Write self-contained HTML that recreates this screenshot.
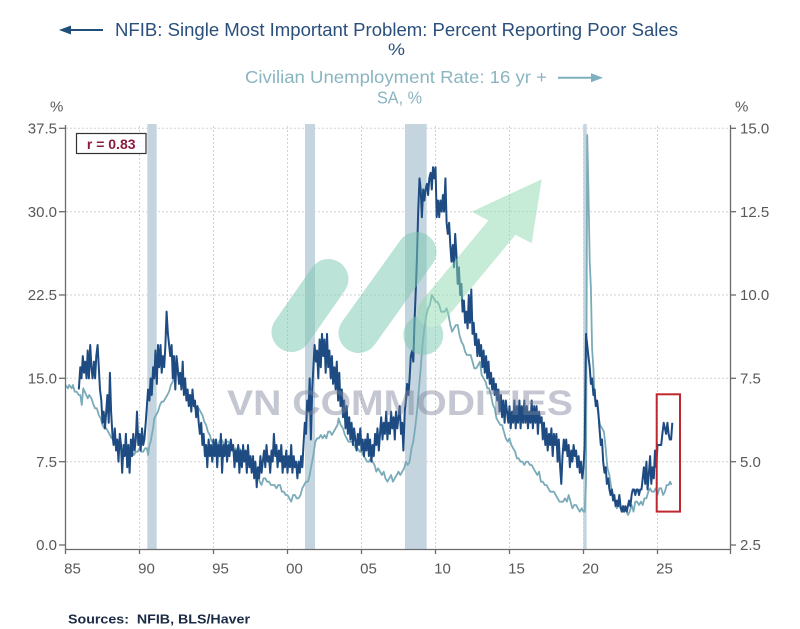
<!DOCTYPE html>
<html>
<head>
<meta charset="utf-8">
<style>
html,body{margin:0;padding:0;background:#fff;}
body{width:800px;height:629px;overflow:hidden;}
svg{display:block;font-family:"Liberation Sans",Arial,sans-serif;}
</style>
</head>
<body>
<svg width="800" height="629" viewBox="0 0 800 629" xmlns="http://www.w3.org/2000/svg">
<rect x="0" y="0" width="800" height="629" fill="#fff"/>

<!-- Legend / title -->
<line x1="66" y1="30" x2="103" y2="30" stroke="#1f4e79" stroke-width="2"/>
<polygon points="59,30 71,25.5 71,34.5" fill="#1f4e79"/>
<text x="115" y="36" font-size="18.5" fill="#2a4f7c" textLength="563" lengthAdjust="spacingAndGlyphs">NFIB: Single Most Important Problem: Percent Reporting Poor Sales</text>
<text x="388" y="55" font-size="17" fill="#2a4f7c" textLength="17" lengthAdjust="spacingAndGlyphs">%</text>
<text x="245" y="83" font-size="17.5" fill="#8ab5c1" textLength="302" lengthAdjust="spacingAndGlyphs">Civilian Unemployment Rate: 16 yr +</text>
<line x1="558" y1="77.7" x2="595" y2="77.7" stroke="#7fb0bf" stroke-width="2"/>
<polygon points="603,77.7 591,73.2 591,82.2" fill="#7fb0bf"/>
<text x="377" y="103.3" font-size="17.5" fill="#8ab5c1" textLength="45" lengthAdjust="spacingAndGlyphs">SA, %</text>

<!-- axis unit labels -->
<text x="50" y="111.5" font-size="15" fill="#595959">%</text>
<text x="735" y="111.5" font-size="15" fill="#595959">%</text>

<!-- recession bars -->
<g fill="#c4d5e0">
<rect x="147.3" y="124" width="9.4" height="425"/>
<rect x="305" y="124" width="10" height="425"/>
<rect x="405" y="124" width="21.7" height="425"/>
<rect x="583.3" y="124" width="3.4" height="425"/>
</g>

<!-- grid -->
<g stroke="#d2d2d2" stroke-width="1" stroke-dasharray="2,2" fill="none">
<line x1="66" y1="128.3" x2="730" y2="128.3"/>
<line x1="66" y1="211.7" x2="730" y2="211.7"/>
<line x1="66" y1="295" x2="730" y2="295"/>
<line x1="66" y1="378.3" x2="730" y2="378.3"/>
<line x1="66" y1="461.7" x2="730" y2="461.7"/>
<line x1="139.5" y1="126" x2="549" y2="549" transform="" stroke="none"/>
<line x1="139.5" y1="126" x2="139.5" y2="549"/>
<line x1="213.5" y1="126" x2="213.5" y2="549"/>
<line x1="287.5" y1="126" x2="287.5" y2="549"/>
<line x1="361.5" y1="126" x2="361.5" y2="549"/>
<line x1="435.5" y1="126" x2="435.5" y2="549"/>
<line x1="509.5" y1="126" x2="509.5" y2="549"/>
<line x1="583.5" y1="126" x2="583.5" y2="549"/>
<line x1="657.5" y1="126" x2="657.5" y2="549"/>
</g>

<!-- Unemployment (right axis) -->
<g transform="translate(65.5,628.33) scale(14.8,-33.333)">
<polyline fill="none" stroke="#7aabb8" stroke-width="1.8" stroke-linejoin="round" vector-effect="non-scaling-stroke"
points="0,7.3 0.17,7.2 0.25,7.3 0.42,7.2 0.5,7.3 0.62,7.1 0.75,7.1 0.9,7.0 1.0,7.0 1.1,6.7 1.2,7.2 1.3,7.1 1.4,7.0 1.5,6.9 1.6,7.0 1.75,6.9 1.9,6.7 2.0,6.6 2.12,6.6 2.25,6.4 2.38,6.3 2.5,6.1 2.62,6.0 2.75,6.0 2.88,5.9 3.0,5.8 3.12,5.7 3.25,5.7 3.38,5.6 3.5,5.5 3.62,5.4 3.75,5.4 3.88,5.3 4.0,5.4 4.12,5.2 4.25,5.1 4.4,5.2 4.5,5.3 4.62,5.2 4.75,5.3 4.88,5.3 5.0,5.4 5.12,5.3 5.25,5.3 5.38,5.4 5.5,5.4 5.58,5.2 5.67,5.5 5.75,5.6 5.83,5.8 5.92,6.0 6.0,6.3 6.12,6.4 6.25,6.5 6.38,6.7 6.5,6.8 6.62,6.8 6.75,6.9 6.88,7.0 7.0,7.1 7.12,7.3 7.25,7.4 7.4,7.6 7.5,7.7 7.6,7.6 7.75,7.5 7.88,7.4 8.0,7.3 8.12,7.1 8.25,7.0 8.38,7.0 8.5,6.9 8.62,6.8 8.75,6.6 8.88,6.6 9.0,6.6 9.12,6.5 9.25,6.4 9.38,6.2 9.5,6.1 9.62,5.9 9.75,5.8 9.88,5.6 10.0,5.6 10.12,5.5 10.25,5.5 10.38,5.6 10.5,5.7 10.62,5.6 10.75,5.5 10.88,5.6 11.0,5.6 11.12,5.5 11.25,5.5 11.38,5.3 11.5,5.4 11.62,5.3 11.75,5.4 11.88,5.3 12.0,5.3 12.12,5.1 12.25,5.0 12.38,4.9 12.5,4.9 12.62,4.8 12.75,4.7 12.88,4.6 13.0,4.6 13.12,4.4 13.25,4.3 13.38,4.5 13.5,4.5 13.62,4.4 13.75,4.4 13.88,4.3 14.0,4.3 14.12,4.3 14.25,4.2 14.38,4.3 14.5,4.3 14.62,4.1 14.75,4.1 14.88,4.0 15.0,4.0 15.12,3.9 15.25,3.8 15.38,4.0 15.5,4.0 15.62,3.9 15.75,3.9 15.88,4.0 16.0,4.2 16.12,4.3 16.25,4.4 16.38,4.4 16.5,4.6 16.62,4.9 16.75,5.2 16.88,5.6 17.0,5.7 17.12,5.7 17.25,5.8 17.38,5.7 17.5,5.8 17.62,5.7 17.75,5.9 17.88,5.9 18.0,5.8 18.12,5.9 18.25,6.0 18.38,6.1 18.45,6.3 18.6,6.1 18.75,6.0 18.88,5.8 19.0,5.7 19.12,5.6 19.25,5.6 19.38,5.6 19.5,5.5 19.62,5.4 19.75,5.4 19.88,5.3 20.0,5.3 20.12,5.2 20.25,5.1 20.38,5.0 20.5,5.0 20.62,5.1 20.75,5.0 20.88,4.9 21.0,4.7 21.12,4.8 21.25,4.7 21.38,4.6 21.5,4.7 21.62,4.5 21.75,4.4 21.88,4.5 22.0,4.6 22.12,4.4 22.25,4.5 22.38,4.6 22.5,4.7 22.62,4.6 22.75,4.7 22.88,4.8 23.0,5.0 23.12,4.9 23.25,5.0 23.38,5.4 23.5,5.6 23.62,6.0 23.75,6.5 23.88,7.2 24.0,7.8 24.12,8.5 24.25,9.0 24.38,9.4 24.5,9.6 24.62,9.7 24.75,10.0 24.88,9.9 25.0,9.8 25.12,9.8 25.25,9.7 25.38,9.5 25.5,9.5 25.62,9.5 25.75,9.6 25.88,9.4 26.0,9.1 26.12,8.9 26.25,9.0 26.38,9.1 26.5,9.1 26.62,8.8 26.75,8.6 26.88,8.5 27.0,8.3 27.12,8.2 27.25,8.2 27.38,8.2 27.5,8.0 27.62,7.8 27.75,7.8 27.88,7.9 28.0,8.0 28.12,7.6 28.25,7.5 28.38,7.4 28.5,7.2 28.62,7.2 28.75,7.0 28.88,6.7 29.0,6.6 29.12,6.3 29.25,6.2 29.38,6.1 29.5,6.1 29.62,5.9 29.75,5.7 29.88,5.6 30.0,5.7 30.12,5.5 30.25,5.4 30.38,5.3 30.5,5.1 30.62,5.1 30.75,5.0 30.88,5.0 31.0,4.9 31.12,5.0 31.25,5.0 31.38,4.9 31.5,4.9 31.62,4.8 31.75,4.7 31.88,4.6 32.0,4.7 32.12,4.4 32.25,4.4 32.38,4.3 32.5,4.3 32.62,4.2 32.75,4.1 32.88,4.1 33.0,4.1 33.12,4.0 33.25,3.9 33.38,3.8 33.5,3.8 33.62,3.8 33.75,3.9 33.88,3.8 34.0,4.0 34.12,3.8 34.25,3.6 34.38,3.7 34.5,3.7 34.62,3.6 34.75,3.5 34.88,3.6 35.0,3.5 35.08,3.5 35.17,4.4 35.25,14.8 35.33,13.2 35.42,11.0 35.5,10.2 35.58,8.4 35.67,7.8 35.75,6.9 35.83,6.7 35.92,6.7 36.0,6.4 36.12,6.1 36.25,6.0 36.38,5.9 36.5,5.4 36.62,4.8 36.75,4.6 36.88,4.2 37.0,4.0 37.12,3.8 37.25,3.6 37.38,3.7 37.5,3.6 37.62,3.5 37.75,3.5 37.88,3.6 38.0,3.4 38.12,3.5 38.25,3.7 38.38,3.5 38.5,3.8 38.62,3.8 38.75,3.7 38.88,3.8 39.0,3.7 39.12,3.9 39.25,3.9 39.38,4.1 39.5,4.2 39.62,4.1 39.75,4.1 39.88,4.2 40.0,4.0 40.12,4.2 40.25,4.2 40.38,4.0 40.5,4.1 40.62,4.3 40.75,4.3 40.85,4.4 40.95,4.3"/>
</g>

<!-- NFIB Poor sales (left axis) -->
<g transform="translate(65.5,545) scale(14.8,-11.111)">
<polyline fill="none" stroke="#1d4b82" stroke-width="2" stroke-linejoin="round" vector-effect="non-scaling-stroke"
points="0.9,14 1.0,16 1.08,15 1.17,17 1.25,15.5 1.33,16.5 1.42,15 1.5,17.5 1.58,15 1.67,18 1.75,16 1.83,15 1.92,16.5 2.0,15 2.08,17 2.17,18 2.25,16 2.33,14 2.42,13 2.5,11 2.58,12 2.67,10.5 2.75,12 2.83,13.5 2.92,11 3.0,15.5 3.08,12 3.17,10 3.25,9 3.33,10.5 3.42,8.5 3.5,9.5 3.58,7.5 3.67,10 3.75,9 3.83,6.5 3.92,9 4.0,8 4.08,10 4.17,7 4.25,9 4.33,6.5 4.42,9.5 4.5,8 4.58,10 4.67,8.5 4.75,9.5 4.83,12 4.92,9 5.0,10 5.08,8.5 5.17,10.5 5.25,9 5.33,9.5 5.42,11 5.5,12.5 5.58,14 5.67,13 5.75,15 5.83,13.5 5.92,16 6.0,15 6.08,17.5 6.17,14.5 6.25,18 6.33,16 6.42,18 6.5,15.5 6.58,17 6.67,16 6.75,18 6.83,21 6.92,19 7.0,18 7.08,17 7.17,18 7.25,15 7.33,17 7.42,14 7.5,17 7.58,16 7.67,14.5 7.75,15.5 7.83,14 7.92,16.5 8.0,13.5 8.08,15 8.17,13 8.25,14 8.33,12.5 8.42,13.5 8.5,12 8.58,14 8.67,12.5 8.75,13 8.83,11.5 8.92,12.5 9.0,11 9.08,10 9.17,11 9.25,9 9.33,10 9.42,8 9.5,9 9.58,7 9.67,9.5 9.75,8 9.83,9 9.92,7.5 10.0,9.5 10.08,8 10.17,9.5 10.25,7 10.33,9 10.42,8 10.5,10 10.58,6.5 10.67,9 10.75,8 10.83,9.5 10.92,7.5 11.0,9 11.08,8 11.17,9.5 11.25,8.5 11.33,9 11.42,7 11.5,8.5 11.58,7.5 11.67,9 11.75,6.5 11.83,8.5 11.92,7 12.0,9 12.08,7.5 12.17,8.5 12.25,6.5 12.33,9 12.42,7 12.5,8 12.58,6.5 12.67,8 12.75,6 12.83,7.5 12.92,5.2 13.0,7 13.08,6 13.17,8 13.25,6.5 13.33,7.5 13.42,8.5 13.5,7 13.58,9 13.67,7.5 13.75,8 13.83,6.5 13.92,8.5 14.0,7.5 14.08,10 14.17,8 14.25,9 14.33,7 14.42,8.5 14.5,7.5 14.58,9 14.67,6.5 14.75,8 14.83,7 14.92,8.5 15.0,6.5 15.08,8 15.17,7 15.25,9 15.33,6.5 15.42,8 15.5,7 15.58,7.5 15.67,6 15.75,7.5 15.83,6.5 15.92,8 16.0,7 16.08,9 16.17,11 16.25,10 16.33,13 16.42,12 16.5,15 16.58,9.5 16.67,14 16.75,16 16.83,18 16.92,16.5 17.0,17.5 17.08,15 17.17,18.5 17.25,16 17.33,19 17.42,17 17.5,18.5 17.58,15.5 17.67,19 17.75,16 17.83,17.5 17.92,15 18.0,17 18.08,14.5 18.17,16 18.25,14 18.33,16.5 18.42,13 18.5,15.5 18.58,12.5 18.67,14 18.75,11.5 18.83,13 18.92,10.5 19.0,12.5 19.08,10 19.17,11.5 19.25,9.5 19.33,11 19.42,9 19.5,10.5 19.58,9.5 19.67,8.5 19.75,10 19.83,9 19.92,10.5 20.0,8.5 20.08,9.5 20.17,8 20.25,9.5 20.33,8.5 20.42,10 20.5,8 20.58,9.5 20.67,7.5 20.75,9 20.83,8 20.92,10 21.0,9 21.08,10.5 21.17,8.5 21.25,10 21.33,11.5 21.42,9.5 21.5,11 21.58,10 21.67,12 21.75,9.5 21.83,11 21.92,10 22.0,12 22.08,10.5 22.17,11.5 22.25,9.5 22.33,12 22.42,10.5 22.5,11.5 22.58,12.5 22.67,10 22.75,11 22.83,8.5 22.92,12 23.0,13 23.08,14.5 23.17,13.5 23.25,15 23.33,17 23.42,17.5 23.5,16.5 23.58,20 23.67,23 23.75,26 23.83,30 23.92,33 24.0,32 24.08,29.5 24.17,32 24.25,31 24.33,32 24.42,32.5 24.5,31.5 24.58,33 24.67,33.5 24.75,32 24.83,34 24.92,33 25.0,34 25.08,29.5 25.17,31 25.25,29.5 25.33,31 25.42,30 25.5,31.5 25.58,30 25.67,33 25.75,29 25.83,28 25.92,29 26.0,27 26.08,25.5 26.17,27 26.25,25 26.33,28 26.42,26 26.5,23.5 26.58,25 26.67,22.5 26.75,23.5 26.83,21 26.92,22 27.0,20 27.08,21 27.17,19.5 27.25,22.5 27.33,20 27.42,23 27.5,19 27.58,20 27.67,18 27.75,19 27.83,17 27.92,18.5 28.0,17 28.08,18 28.17,16 28.25,17.5 28.33,15.5 28.42,17 28.5,15 28.58,16.5 28.67,14.5 28.75,15.5 28.83,14 28.92,15 29.0,13.5 29.08,14.5 29.17,13 29.25,14 29.33,12 29.42,13.5 29.5,11.5 29.58,13 29.67,11 29.75,13 29.83,12 29.92,11 30.0,12.5 30.08,10.5 30.17,12 30.25,11 30.33,13 30.42,10.5 30.5,12.5 30.58,11 30.67,13 30.75,10.5 30.83,12.5 30.92,11 31.0,13 31.08,11 31.17,12.5 31.25,10.5 31.33,12 31.42,11 31.5,13 31.58,10.5 31.67,12.5 31.75,11 31.83,12.5 31.92,10 32.0,12 32.08,11 32.17,11.5 32.25,9.5 32.33,11 32.42,9 32.5,10.5 32.58,8.5 32.67,10 32.75,9 32.83,10.5 32.92,8 33.0,10 33.08,9 33.17,10 33.25,7.5 33.33,9.5 33.42,7 33.5,5.5 33.58,8 33.67,9.5 33.75,8.5 33.83,9.5 33.92,8 34.0,9 34.08,7 34.17,8.5 34.25,7.5 34.33,9 34.42,8 34.5,8.5 34.58,7 34.67,8 34.75,6.5 34.83,7.5 34.92,6 35.0,7 35.08,9 35.17,19 35.25,18 35.33,17 35.42,16 35.5,14.5 35.58,15 35.67,13.5 35.75,14 35.83,12.5 35.92,13 36.0,12 36.08,10.5 36.17,9 36.25,9.5 36.33,7.5 36.42,6.5 36.5,7 36.58,5.5 36.67,6 36.75,5 36.83,4.5 36.92,5 37.0,4 37.08,4.5 37.17,3.5 37.25,4 37.33,3.5 37.42,4.5 37.5,3.5 37.58,3 37.67,3.5 37.75,3 37.83,3.5 37.92,3 38.0,3.5 38.08,4 38.17,3.5 38.25,4.5 38.33,5 38.42,5 38.5,4.5 38.58,5 38.67,5 38.75,4.5 38.83,5 38.92,5 39.0,6 39.08,7 39.17,5.5 39.25,7.5 39.33,5 39.42,6.5 39.5,8 39.58,5.5 39.67,7 39.75,6 39.83,8.5 39.92,7 40.0,9 40.08,9 40.17,9 40.25,9 40.33,10 40.42,11 40.5,10.5 40.58,10 40.67,11 40.75,10 40.83,9.5 40.92,9.5 41.0,11"/>
</g>

<!-- Watermark -->
<g opacity="0.5">
<line x1="291.5" y1="332" x2="328.5" y2="279" stroke="#7cc8b0" stroke-width="40" stroke-linecap="round"/>
<line x1="358.5" y1="333" x2="416.5" y2="252" stroke="#7cc8b0" stroke-width="40" stroke-linecap="round"/>
<circle cx="423.3" cy="335" r="20" fill="#7cc8b0"/>
<line x1="432" y1="312" x2="505" y2="224" stroke="#8fd9b0" stroke-width="30" stroke-linecap="round"/>
<polygon points="471.7,211.7 541.7,179.3 531.7,243.3" fill="#8fd9b0"/>
</g>
<text x="227" y="415" font-size="35" font-weight="bold" fill="#7d8299" fill-opacity="0.45" textLength="346" lengthAdjust="spacingAndGlyphs">VN COMMODITIES</text>

<!-- red highlight box -->
<rect x="656.7" y="394.3" width="23.3" height="117.3" fill="none" stroke="#c0282f" stroke-width="2"/>

<!-- r box -->
<rect x="76.5" y="133.5" width="69.5" height="20" fill="#fff" stroke="#333" stroke-width="1.2"/>
<text x="111.2" y="148.8" font-size="14" font-weight="bold" fill="#8b1c3c" text-anchor="middle">r = 0.83</text>

<!-- axes -->
<g stroke="#6b6b6b" stroke-width="1.3" fill="none">
<line x1="65.5" y1="125" x2="65.5" y2="554"/>
<line x1="730.5" y1="125" x2="730.5" y2="554"/>
<line x1="65.5" y1="549.5" x2="730.5" y2="549.5"/>
<line x1="59" y1="128.3" x2="65.5" y2="128.3"/>
<line x1="59" y1="211.7" x2="65.5" y2="211.7"/>
<line x1="59" y1="295" x2="65.5" y2="295"/>
<line x1="59" y1="378.3" x2="65.5" y2="378.3"/>
<line x1="59" y1="461.7" x2="65.5" y2="461.7"/>
<line x1="59" y1="545" x2="65.5" y2="545"/>
<line x1="730.5" y1="128.3" x2="736" y2="128.3"/>
<line x1="730.5" y1="211.7" x2="736" y2="211.7"/>
<line x1="730.5" y1="295" x2="736" y2="295"/>
<line x1="730.5" y1="378.3" x2="736" y2="378.3"/>
<line x1="730.5" y1="461.7" x2="736" y2="461.7"/>
<line x1="730.5" y1="545" x2="736" y2="545"/>
<line x1="139.5" y1="549.5" x2="139.5" y2="554"/>
<line x1="213.5" y1="549.5" x2="213.5" y2="554"/>
<line x1="287.5" y1="549.5" x2="287.5" y2="554"/>
<line x1="361.5" y1="549.5" x2="361.5" y2="554"/>
<line x1="435.5" y1="549.5" x2="435.5" y2="554"/>
<line x1="509.5" y1="549.5" x2="509.5" y2="554"/>
<line x1="583.5" y1="549.5" x2="583.5" y2="554"/>
<line x1="657.5" y1="549.5" x2="657.5" y2="554"/>
</g>

<!-- left tick labels -->
<g font-size="15" fill="#595959" text-anchor="end">
<text x="57" y="133.5">37.5</text>
<text x="57" y="216.9">30.0</text>
<text x="57" y="300.2">22.5</text>
<text x="57" y="383.5">15.0</text>
<text x="57" y="466.9">7.5</text>
<text x="57" y="550.2">0.0</text>
</g>
<!-- right tick labels -->
<g font-size="15" fill="#595959">
<text x="740" y="133.5">15.0</text>
<text x="740" y="216.9">12.5</text>
<text x="740" y="300.2">10.0</text>
<text x="740" y="383.5">7.5</text>
<text x="740" y="466.9">5.0</text>
<text x="740" y="550.2">2.5</text>
</g>
<!-- x labels -->
<g font-size="15" fill="#595959" text-anchor="middle">
<text x="72.5" y="573.5">85</text>
<text x="146.5" y="573.5">90</text>
<text x="220.5" y="573.5">95</text>
<text x="294.5" y="573.5">00</text>
<text x="368.5" y="573.5">05</text>
<text x="442.5" y="573.5">10</text>
<text x="516.5" y="573.5">15</text>
<text x="590.5" y="573.5">20</text>
<text x="664.5" y="573.5">25</text>
</g>

<text x="68" y="623.5" font-size="13" font-weight="bold" fill="#1c2b45" textLength="182" lengthAdjust="spacingAndGlyphs" xml:space="preserve">Sources:  NFIB, BLS/Haver</text>
</svg>
</body>
</html>
